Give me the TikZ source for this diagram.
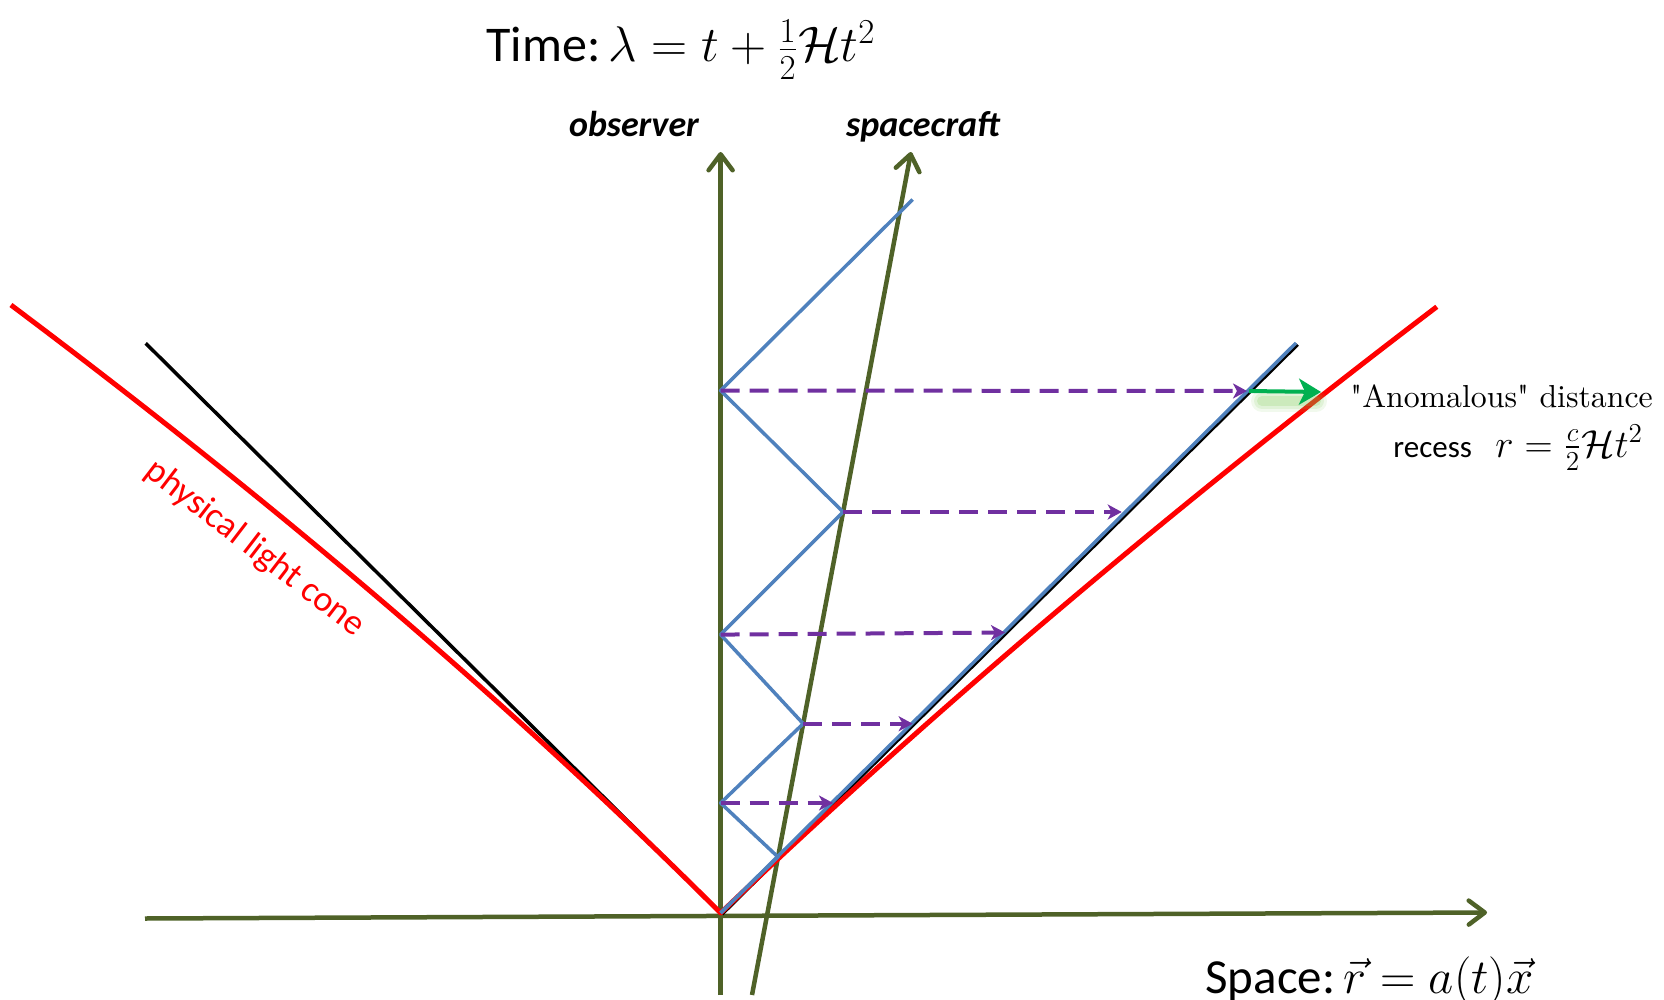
\RequirePackage{fix-cm}
\documentclass[tikz,border=0pt]{standalone}
\usepackage{amsmath}
\usepackage{fontspec}
\usetikzlibrary{arrows.meta}
\newfontfamily\carlito{Carlito}
\newfontfamily\lmrplain{lmroman10-regular.otf}
\definecolor{axisgreen}{HTML}{4F6228}
\definecolor{sigblue}{HTML}{4F81BD}
\definecolor{sigpurple}{HTML}{7030A0}
\definecolor{arrgreen}{HTML}{00B050}
\definecolor{glowgreen}{RGB}{120,200,80}
\begin{document}
\begin{tikzpicture}[x=0.5pt,y=-0.5pt,
  axisline/.style={draw=axisgreen, line width=2.25pt, -{Straight Barb[length=8pt,width=12pt,round]}},
  conebl/.style={draw=black, line width=1.75pt},
  conered/.style={draw=red, line width=2.5pt, line join=round},
  zig/.style={draw=sigblue, line width=1.75pt, line join=round},
  sig/.style={draw=sigpurple, line width=2pt, dash pattern=on 9.5pt off 5pt, -{Stealth[length=7pt,width=7.5pt,inset=2pt]}},
  grarrow/.style={draw=arrgreen, line width=2pt, -{Stealth[length=11pt,width=13pt,inset=3pt]}},
  lbl/.style={inner sep=0pt}]
\useasboundingbox (0,0) rectangle (1664,1000);
% key points
\coordinate (O) at (720.6,913);
\coordinate (HL) at (145,918.5);
\coordinate (HR) at (1487,912.5);
\coordinate (VB) at (720.6,995);
\coordinate (VT) at (720.6,152);
\coordinate (SB) at (752,995);
\coordinate (ST) at (911,152);
\coordinate (BL) at (145.7,343.3);
\coordinate (Ob) at (722,914.2);
\coordinate (BR) at (1297.6,344.5);
\coordinate (CR) at (1296,343);
\coordinate (S1) at (778.0,857);
\coordinate (O1) at (720.6,803);
\coordinate (S2) at (803.2,723.7);
\coordinate (O2) at (720.6,634.6);
\coordinate (S3) at (843.1,512);
\coordinate (O3) at (720.6,390.5);
\coordinate (E) at (912.6,199.5);
\coordinate (P1) at (833,803);
\coordinate (P2) at (912.6,723.7);
\coordinate (P3) at (1005,632.5);
\coordinate (P4) at (1121.7,512);
\coordinate (P5) at (1247,391);
\coordinate (G1) at (1249,391);
\coordinate (G2) at (1321,392);
% axes
\draw[axisline] (HL) -- (HR);
\draw[axisline] (VB) -- (VT);
\draw[axisline] (SB) -- (ST);
% flat light cone
\draw[conebl] (BL) -- (O);
\draw[conebl] (Ob) -- (BR);
% physical light cone
\draw[conered] plot[domain=6.08:0,samples=60] ({720.6-100*\x-2.75*\x*\x},{913-100*\x})
  -- plot[domain=0:6.063,samples=60] ({720.6+104.86*\x+2.19*\x*\x},{913-100*\x});
% signals
\draw[zig] (O) -- (CR);
\draw[zig] (O) -- (S1) -- (O1) -- (S2) -- (O2) -- (S3) -- (O3) -- (E);
\draw[sig] (O1) -- (P1);
\draw[sig] (S2) -- (P2);
\draw[sig] (O2) -- (P3);
\draw[sig] (S3) -- (P4);
\draw[sig] (O3) -- (P5);
% green glow and arrow
\foreach \w/\o in {11/0.10,8/0.14,5/0.2}
  \draw[draw=glowgreen, line width=\w pt, opacity=\o, line cap=round] (1262,401) -- (1316,401);
\draw[grarrow] (G1) -- (G2);
% labels
\node[lbl, anchor=base, font=\carlito\fontsize{25}{30}\selectfont] (title) at (681,62) {Time:$\,\lambda=t+\frac{1}{2}\mathcal{H}t^2$};
\node[lbl, anchor=base, font=\carlito\bfseries\itshape\fontsize{18}{22}\selectfont] (obs) at (634,137) {observer};
\node[lbl, anchor=base, font=\carlito\bfseries\itshape\fontsize{18}{22}\selectfont] (sc) at (923,137) {spacecraft};
\node[lbl, anchor=base, rotate=-37.5, text=red, font=\carlito\fontsize{18}{22}\selectfont] (plc) at (249,556) {physical light cone};
\node[lbl, anchor=base west, font=\lmrplain\fontsize{15.9}{19}\selectfont] (anom) at (1350,407) {"Anomalous" distance};
\node[lbl, anchor=base west, font=\carlito\fontsize{15.5}{18}\selectfont] (rec) at (1393,457) {recess};
\node[lbl, anchor=base west, font=\fontsize{19.5}{23}\selectfont] (recm) at (1495,457) {$r=\frac{c}{2}\mathcal{H}t^2$};
\node[lbl, anchor=base west, font=\carlito\fontsize{24.5}{29}\selectfont] (space) at (1205,993) {Space:$\,\vec{r}=a(t)\vec{x}$};
\end{tikzpicture}
\end{document}
